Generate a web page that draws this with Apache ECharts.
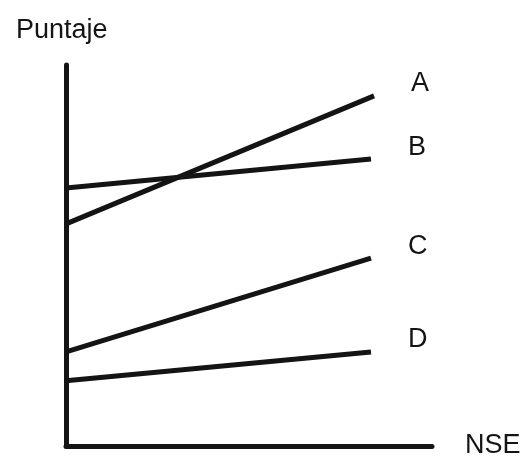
<!DOCTYPE html>
<html>
<head>
<meta charset="utf-8">
<script src="https://cdn.jsdelivr.net/npm/echarts@6/dist/echarts.min.js"></script>
<style>html,body{margin:0;padding:0;background:#fff}#c{width:524px;height:461px}</style>
</head>
<body>
<div id="c"></div>
<script>
var seriesNames = ['A', 'B', 'C', 'D'];
var xStart = [0, 0, 0, 0];
var xEnd = [10.1, 10, 10, 10];
var yStart = [58.3, 67.7, 24.7, 17.1];
var yEnd = [91.9, 75.3, 49.3, 24.7];
var xAxisTitle = 'NSE';
var yAxisTitle = 'Puntaje';

var FONT = 'Liberation Sans, Arial, sans-serif';
var INK = '#141414';

var chart = echarts.init(document.getElementById('c'), null, {renderer: 'canvas'});
var series = seriesNames.map(function (n, i) {
  return {
    name: n,
    type: 'line',
    showSymbol: false,
    symbol: 'none',
    silent: true,
    data: [[xStart[i], yStart[i]], [xEnd[i], yEnd[i]]],
    lineStyle: {color: INK, width: 5, cap: 'butt'},
    endLabel: {
      show: true,
      formatter: n,
      distance: 0,
      offset: [37, -12],
      color: INK,
      fontFamily: FONT,
      fontSize: 27
    }
  };
});

chart.setOption({
  animation: false,
  backgroundColor: '#fff',
  title: {
    text: yAxisTitle,
    left: 11, top: 12,
    textStyle: {fontFamily: FONT, fontSize: 27, fontWeight: 'normal', color: INK}
  },
  grid: {left: 66, top: 65, width: 366, height: 381},
  xAxis: {
    type: 'value', min: 0, max: 12,
    name: xAxisTitle, nameLocation: 'end', nameGap: 33,
    nameTextStyle: {fontFamily: FONT, fontSize: 27, color: INK, verticalAlign: 'middle', padding: [8, 0, 0, 0]},
    axisLine: {show: true, lineStyle: {color: INK, width: 5}},
    axisTick: {show: false}, axisLabel: {show: false}, splitLine: {show: false}
  },
  yAxis: {
    type: 'value', min: 0, max: 100,
    axisLine: {show: true, lineStyle: {color: INK, width: 5}},
    axisTick: {show: false}, axisLabel: {show: false}, splitLine: {show: false}
  },
  series: series
});
</script>
</body>
</html>
